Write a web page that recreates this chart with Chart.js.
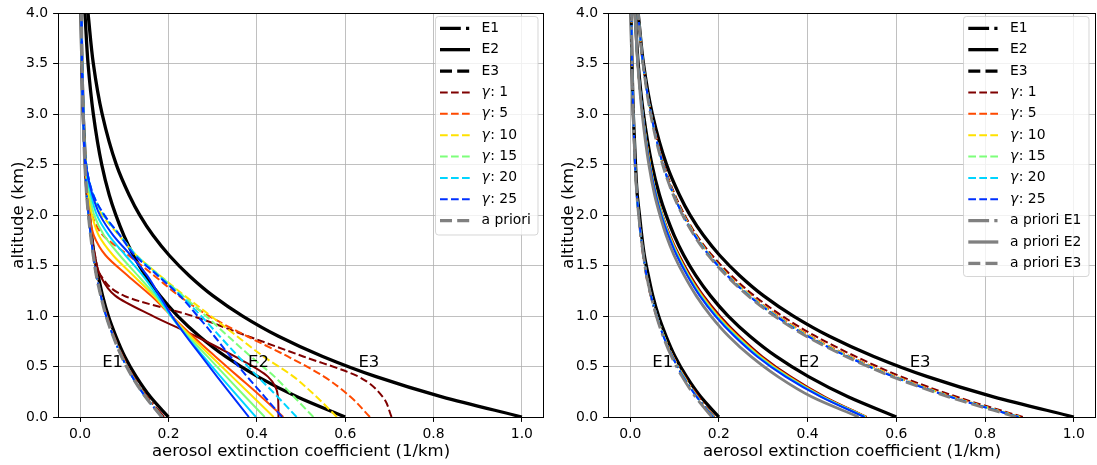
<!DOCTYPE html>
<html>
<head>
<meta charset="utf-8">
<script src="https://cdn.jsdelivr.net/npm/chart.js@4.4.0/dist/chart.umd.min.js"></script>
<style>
  body { margin: 0; background: #fff; }
  #wrap { position: relative; width: 1097px; height: 465px; }
  canvas { position: absolute; top: 0; }
</style>
</head>
<body>
<div id="wrap">
  <canvas id="leftChart" width="548" height="465" style="left:0"></canvas>
  <canvas id="rightChart" width="549" height="465" style="left:548px"></canvas>
</div>
<script>
// --- Data ---
const ALT = [0, 0.2, 0.4, 0.6, 0.8, 1.0, 1.2, 1.4, 1.6, 1.8, 2.0, 2.2, 2.5, 3.0, 3.5, 4.0];
const X_TICKS = [0, 0.2, 0.4, 0.6, 0.8, 1.0];
const Y_TICKS = [0, 0.5, 1.0, 1.5, 2.0, 2.5, 3.0, 3.5, 4.0];
const GAMMAS = [1, 5, 10, 15, 20, 25];
const GAMMA_COLORS = ['#7f0000', '#ff4a00', '#ffe100', '#7dff7a', '#00d5ff', '#0030ff'];
const PROFILE_LABELS = [
  { text: 'E1', x: 0.05 },
  { text: 'E2', x: 0.38 },
  { text: 'E3', x: 0.63 }
];

// true profiles (black)
const E1_TRUE = [0.200, 0.159, 0.127, 0.101, 0.081, 0.064, 0.051, 0.041, 0.032, 0.026, 0.021, 0.016, 0.012, 0.007, 0.004, 0.002];
const E2_TRUE = [0.600, 0.491, 0.402, 0.329, 0.270, 0.221, 0.181, 0.148, 0.121, 0.099, 0.081, 0.066, 0.049, 0.030, 0.018, 0.011];
const E3_TRUE = [1.000, 0.819, 0.670, 0.549, 0.449, 0.368, 0.301, 0.247, 0.202, 0.165, 0.135, 0.111, 0.082, 0.050, 0.030, 0.018];

// left panel: one a priori, retrievals per gamma (order of GAMMAS)
const L_APRIORI = [0.185, 0.148, 0.118, 0.094, 0.075, 0.059, 0.047, 0.037, 0.030, 0.024, 0.019, 0.015, 0.011, 0.007, 0.004, 0.003];
const L_E1_FITS = [
  [0.190, 0.152, 0.121, 0.097, 0.077, 0.061, 0.048, 0.038, 0.030, 0.024, 0.019, 0.015, 0.011, 0.007, 0.004, 0.003],
  [0.187, 0.150, 0.119, 0.095, 0.076, 0.060, 0.047, 0.037, 0.030, 0.024, 0.019, 0.015, 0.011, 0.007, 0.004, 0.003],
  [0.186, 0.149, 0.119, 0.095, 0.075, 0.059, 0.047, 0.037, 0.030, 0.024, 0.019, 0.015, 0.011, 0.007, 0.004, 0.003],
  [0.186, 0.149, 0.118, 0.094, 0.075, 0.059, 0.047, 0.037, 0.030, 0.024, 0.019, 0.015, 0.011, 0.007, 0.004, 0.003],
  [0.186, 0.148, 0.118, 0.094, 0.075, 0.059, 0.047, 0.037, 0.030, 0.024, 0.019, 0.015, 0.011, 0.007, 0.004, 0.003],
  [0.185, 0.148, 0.118, 0.094, 0.075, 0.059, 0.047, 0.037, 0.030, 0.024, 0.019, 0.015, 0.011, 0.007, 0.004, 0.003]
];
const L_E2_FITS = [
  [0.449, 0.448, 0.425, 0.350, 0.262, 0.165, 0.080, 0.046, 0.033, 0.026, 0.020, 0.016, 0.011, 0.007, 0.004, 0.003],
  [0.460, 0.410, 0.358, 0.306, 0.255, 0.207, 0.161, 0.108, 0.058, 0.031, 0.022, 0.017, 0.011, 0.007, 0.004, 0.003],
  [0.438, 0.391, 0.344, 0.297, 0.250, 0.207, 0.167, 0.121, 0.075, 0.042, 0.027, 0.019, 0.012, 0.007, 0.004, 0.003],
  [0.418, 0.374, 0.331, 0.288, 0.245, 0.206, 0.171, 0.131, 0.090, 0.054, 0.032, 0.022, 0.012, 0.007, 0.004, 0.003],
  [0.398, 0.358, 0.318, 0.279, 0.241, 0.206, 0.175, 0.142, 0.103, 0.065, 0.038, 0.025, 0.012, 0.007, 0.004, 0.003],
  [0.382, 0.346, 0.310, 0.275, 0.240, 0.208, 0.180, 0.152, 0.115, 0.075, 0.045, 0.028, 0.013, 0.007, 0.004, 0.003]
];
const L_E3_FITS = [
  [0.705, 0.685, 0.630, 0.505, 0.380, 0.255, 0.100, 0.047, 0.034, 0.026, 0.020, 0.016, 0.011, 0.007, 0.004, 0.003],
  [0.656, 0.612, 0.552, 0.470, 0.378, 0.292, 0.224, 0.168, 0.110, 0.052, 0.027, 0.019, 0.013, 0.007, 0.004, 0.003],
  [0.581, 0.535, 0.483, 0.415, 0.355, 0.296, 0.237, 0.181, 0.128, 0.088, 0.050, 0.027, 0.014, 0.008, 0.005, 0.003],
  [0.528, 0.484, 0.440, 0.386, 0.335, 0.285, 0.233, 0.180, 0.128, 0.090, 0.053, 0.029, 0.014, 0.008, 0.005, 0.003],
  [0.490, 0.447, 0.402, 0.358, 0.316, 0.274, 0.229, 0.178, 0.127, 0.090, 0.054, 0.030, 0.014, 0.008, 0.005, 0.003],
  [0.457, 0.418, 0.378, 0.340, 0.304, 0.266, 0.226, 0.176, 0.124, 0.090, 0.055, 0.030, 0.014, 0.008, 0.005, 0.003]
];

// right panel: one a priori per profile, retrievals per gamma
const R_APRIORI_E1 = [0.184, 0.147, 0.117, 0.093, 0.074, 0.059, 0.047, 0.037, 0.030, 0.024, 0.019, 0.015, 0.011, 0.007, 0.004, 0.003];
const R_APRIORI_E2 = [0.515, 0.409, 0.333, 0.272, 0.222, 0.182, 0.149, 0.122, 0.099, 0.081, 0.067, 0.055, 0.042, 0.027, 0.017, 0.011];
const R_APRIORI_E3 = [0.870, 0.717, 0.590, 0.486, 0.397, 0.325, 0.266, 0.217, 0.176, 0.144, 0.118, 0.097, 0.073, 0.046, 0.029, 0.018];
const R_E1_FITS = [
  [0.190, 0.154, 0.123, 0.097, 0.076, 0.059, 0.046, 0.036, 0.029, 0.023, 0.019, 0.015, 0.011, 0.007, 0.004, 0.003],
  [0.189, 0.152, 0.121, 0.096, 0.076, 0.060, 0.047, 0.037, 0.030, 0.024, 0.019, 0.015, 0.011, 0.007, 0.004, 0.003],
  [0.188, 0.151, 0.121, 0.096, 0.076, 0.060, 0.047, 0.037, 0.030, 0.024, 0.019, 0.015, 0.011, 0.007, 0.004, 0.003],
  [0.188, 0.151, 0.120, 0.095, 0.076, 0.060, 0.047, 0.037, 0.030, 0.024, 0.019, 0.015, 0.011, 0.007, 0.004, 0.003],
  [0.187, 0.150, 0.120, 0.095, 0.075, 0.060, 0.047, 0.037, 0.030, 0.024, 0.019, 0.015, 0.011, 0.007, 0.004, 0.003],
  [0.187, 0.150, 0.119, 0.095, 0.075, 0.060, 0.047, 0.037, 0.030, 0.024, 0.019, 0.015, 0.011, 0.007, 0.004, 0.003]
];
const R_E2_FITS = [
  [0.533, 0.439, 0.362, 0.298, 0.247, 0.203, 0.166, 0.136, 0.111, 0.090, 0.073, 0.060, 0.045, 0.028, 0.017, 0.011],
  [0.532, 0.436, 0.358, 0.294, 0.243, 0.199, 0.163, 0.133, 0.109, 0.089, 0.072, 0.059, 0.045, 0.028, 0.017, 0.011],
  [0.531, 0.434, 0.356, 0.292, 0.241, 0.197, 0.161, 0.132, 0.108, 0.088, 0.072, 0.059, 0.045, 0.028, 0.017, 0.011],
  [0.530, 0.433, 0.354, 0.290, 0.239, 0.195, 0.160, 0.131, 0.107, 0.087, 0.071, 0.059, 0.044, 0.028, 0.017, 0.011],
  [0.529, 0.432, 0.352, 0.288, 0.237, 0.194, 0.158, 0.130, 0.106, 0.087, 0.071, 0.058, 0.044, 0.028, 0.017, 0.011],
  [0.528, 0.430, 0.350, 0.286, 0.235, 0.192, 0.157, 0.129, 0.105, 0.086, 0.070, 0.058, 0.044, 0.028, 0.017, 0.011]
];
const R_E3_FITS = [
  [0.885, 0.736, 0.611, 0.508, 0.418, 0.343, 0.280, 0.228, 0.185, 0.150, 0.123, 0.101, 0.076, 0.048, 0.029, 0.018],
  [0.880, 0.727, 0.600, 0.496, 0.407, 0.334, 0.273, 0.223, 0.181, 0.148, 0.121, 0.099, 0.075, 0.047, 0.029, 0.018],
  [0.878, 0.724, 0.597, 0.493, 0.404, 0.331, 0.271, 0.221, 0.180, 0.147, 0.120, 0.099, 0.074, 0.047, 0.029, 0.018],
  [0.877, 0.723, 0.595, 0.491, 0.402, 0.330, 0.270, 0.220, 0.179, 0.146, 0.120, 0.098, 0.074, 0.047, 0.029, 0.018],
  [0.876, 0.722, 0.594, 0.490, 0.401, 0.329, 0.269, 0.220, 0.179, 0.146, 0.119, 0.098, 0.074, 0.047, 0.029, 0.018],
  [0.875, 0.721, 0.593, 0.489, 0.400, 0.328, 0.268, 0.219, 0.178, 0.145, 0.119, 0.098, 0.074, 0.047, 0.029, 0.018]
];

// --- Styles ---
const FONT = '"DejaVu Sans", sans-serif';
const GRAY = '#808080';
const THICK = 3.3;
const THIN = 2;
const SOLID = [];
const DASH = [7.7, 3.3];
const DASHDOT = [13.3, 3.3, 2.1, 3.3];
const BIG_DASH = [12, 5.2];
const BIG_DASHDOT = [20.8, 5.2, 3.2, 5.2];

Chart.defaults.font.family = FONT;
Chart.defaults.color = '#000';

function series(values, color, width, dash) {
  return {
    data: values.map((v, i) => ({ x: v, y: ALT[i] })),
    borderColor: color,
    borderWidth: width,
    borderDash: dash,
    pointRadius: 0,
    fill: false,
    cubicInterpolationMode: 'monotone',
    clip: 0
  };
}

// list is bottom-to-top; Chart.js draws lower "order" on top
function stack(list) {
  return list.map((d, i) => Object.assign(d, { order: list.length - i }));
}

function leftDatasets() {
  const list = [
    series(E1_TRUE, '#000', THICK, SOLID),
    series(E2_TRUE, '#000', THICK, SOLID),
    series(E3_TRUE, '#000', THICK, SOLID)
  ];
  GAMMAS.forEach((g, k) => {
    list.push(series(L_E1_FITS[k], GAMMA_COLORS[k], THIN, DASHDOT));
    list.push(series(L_E2_FITS[k], GAMMA_COLORS[k], THIN, SOLID));
    list.push(series(L_E3_FITS[k], GAMMA_COLORS[k], THIN, DASH));
  });
  list.push(series(L_APRIORI, GRAY, THICK, BIG_DASH));
  return stack(list);
}

function rightDatasets() {
  const list = [
    series(E1_TRUE, '#000', THICK, SOLID),
    series(E2_TRUE, '#000', THICK, SOLID),
    series(E3_TRUE, '#000', THICK, SOLID)
  ];
  GAMMAS.forEach((g, k) => {
    list.push(series(R_E1_FITS[k], GAMMA_COLORS[k], THIN, DASHDOT));
    list.push(series(R_E2_FITS[k], GAMMA_COLORS[k], THIN, SOLID));
    list.push(series(R_E3_FITS[k], GAMMA_COLORS[k], THIN, DASH));
  });
  list.push(series(R_APRIORI_E1, GRAY, 2.8, BIG_DASHDOT));
  list.push(series(R_APRIORI_E2, GRAY, 2.8, SOLID));
  list.push(series(R_APRIORI_E3, GRAY, 2.8, BIG_DASH));
  return stack(list);
}

function legendItems(aprioriLabels) {
  const items = [
    { label: 'E1', color: '#000', width: THICK, dash: BIG_DASHDOT },
    { label: 'E2', color: '#000', width: THICK, dash: SOLID },
    { label: 'E3', color: '#000', width: THICK, dash: BIG_DASH }
  ];
  GAMMAS.forEach((g, k) => items.push({ gamma: g, color: GAMMA_COLORS[k], width: THIN, dash: DASH }));
  const styles = [BIG_DASHDOT, SOLID, BIG_DASH];
  aprioriLabels.forEach((lab, i) => items.push({
    label: lab, color: GRAY, width: THICK, dash: aprioriLabels.length === 1 ? BIG_DASH : styles[i]
  }));
  return items;
}

// --- Plugins ---
const framePlugin = {
  id: 'frame',
  afterDatasetsDraw(chart) {
    const { ctx, chartArea: a } = chart;
    ctx.save();
    ctx.strokeStyle = '#000';
    ctx.lineWidth = 1;
    ctx.strokeRect(Math.round(a.left) + 0.5, Math.round(a.top) + 0.5,
      Math.round(a.right - a.left) - 1, Math.round(a.bottom - a.top));
    ctx.restore();
  }
};

const labelPlugin = {
  id: 'profileLabels',
  afterDatasetsDraw(chart) {
    const { ctx, scales } = chart;
    ctx.save();
    ctx.font = '16.5px ' + FONT;
    ctx.fillStyle = '#000';
    ctx.textBaseline = 'alphabetic';
    PROFILE_LABELS.forEach(p => {
      ctx.fillText(p.text, scales.x.getPixelForValue(p.x), scales.y.getPixelForValue(0.5));
    });
    ctx.restore();
  }
};

function roundRect(ctx, x, y, w, h, r) {
  ctx.beginPath();
  ctx.moveTo(x + r, y);
  ctx.lineTo(x + w - r, y);
  ctx.arcTo(x + w, y, x + w, y + r, r);
  ctx.lineTo(x + w, y + h - r);
  ctx.arcTo(x + w, y + h, x + w - r, y + h, r);
  ctx.lineTo(x + r, y + h);
  ctx.arcTo(x, y + h, x, y + h - r, r);
  ctx.lineTo(x, y + r);
  ctx.arcTo(x, y, x + r, y, r);
  ctx.closePath();
}

function legendPlugin(items, box) {
  return {
    id: 'boxLegend',
    afterDraw(chart) {
      const ctx = chart.ctx;
      ctx.save();
      ctx.globalAlpha = 0.8;
      roundRect(ctx, box.x, box.y, box.w, box.h, 3);
      ctx.fillStyle = '#fff';
      ctx.fill();
      ctx.strokeStyle = '#cccccc';
      ctx.lineWidth = 1;
      ctx.stroke();
      ctx.globalAlpha = 1;
      ctx.textBaseline = 'middle';
      ctx.fillStyle = '#000';
      items.forEach((it, i) => {
        const y = box.row0 + i * box.rowH;
        ctx.strokeStyle = it.color;
        ctx.lineWidth = it.width;
        ctx.setLineDash(it.dash);
        ctx.beginPath();
        ctx.moveTo(box.hx0, y);
        ctx.lineTo(box.hx1, y);
        ctx.stroke();
        ctx.setLineDash([]);
        if (it.gamma !== undefined) {
          ctx.font = 'italic 13.9px ' + FONT;
          ctx.fillText('γ', box.tx, y);
          const w = ctx.measureText('γ').width;
          ctx.font = '13.9px ' + FONT;
          ctx.fillText(': ' + it.gamma, box.tx + w + 0.5, y);
        } else {
          ctx.font = '13.9px ' + FONT;
          ctx.fillText(it.label, box.tx, y);
        }
      });
      ctx.restore();
    }
  };
}

// --- Chart builder ---
function makeChart(canvasId, datasets, cfg, items, box) {
  return new Chart(document.getElementById(canvasId), {
    type: 'line',
    data: { datasets: datasets },
    options: {
      responsive: false,
      animation: false,
      devicePixelRatio: 1,
      indexAxis: 'y',
      layout: { padding: { top: cfg.top, right: cfg.right, left: 0, bottom: 0 } },
      plugins: { legend: { display: false }, tooltip: { enabled: false } },
      scales: {
        x: {
          type: 'linear', position: 'bottom', min: -0.05, max: 1.05,
          afterFit: s => { s.height = cfg.xAxisH; },
          afterBuildTicks: s => { s.ticks = X_TICKS.map(v => ({ value: v })); },
          ticks: { callback: v => v.toFixed(1), font: { size: 13.9 }, color: '#000', padding: 4, maxRotation: 0, autoSkip: false },
          grid: { color: '#b0b0b0', lineWidth: 0.8, tickColor: '#000', tickLength: 4.9, tickWidth: 1 },
          border: { display: false },
          title: { display: true, text: 'aerosol extinction coefficient (1/km)', font: { size: 16.5 }, color: '#000', padding: { top: 0, bottom: cfg.xTitlePad } }
        },
        y: {
          type: 'linear', position: 'left', min: 0, max: 4,
          afterFit: s => { s.width = cfg.yAxisW; },
          afterBuildTicks: s => { s.ticks = Y_TICKS.map(v => ({ value: v })); },
          ticks: { callback: v => v.toFixed(1), font: { size: 13.9 }, color: '#000', padding: 4.9, autoSkip: false },
          grid: { color: '#b0b0b0', lineWidth: 0.8, tickColor: '#000', tickLength: 4.9, tickWidth: 1 },
          border: { display: false },
          title: { display: true, text: 'altitude (km)', font: { size: 16.5 }, color: '#000', padding: { top: cfg.yTitlePad, bottom: 0 } }
        }
      }
    },
    plugins: [framePlugin, labelPlugin, legendPlugin(items, box)]
  });
}

makeChart('leftChart', leftDatasets(),
  { top: 10, right: 4, xAxisH: 48, yAxisW: 58, xTitlePad: 3, yTitlePad: 9 },
  legendItems(['a priori']),
  { x: 435.5, y: 16.5, w: 102.5, h: 218.5, row0: 28.3, rowH: 21.37, hx0: 440, hx1: 470, tx: 481.5 });

makeChart('rightChart', rightDatasets(),
  { top: 10, right: 1, xAxisH: 48, yAxisW: 60, xTitlePad: 3, yTitlePad: 11 },
  legendItems(['a priori E1', 'a priori E2', 'a priori E3']),
  { x: 415.5, y: 16.5, w: 125.5, h: 260, row0: 28.3, rowH: 21.37, hx0: 420.3, hx1: 450.3, tx: 462 });
</script>
</body>
</html>
